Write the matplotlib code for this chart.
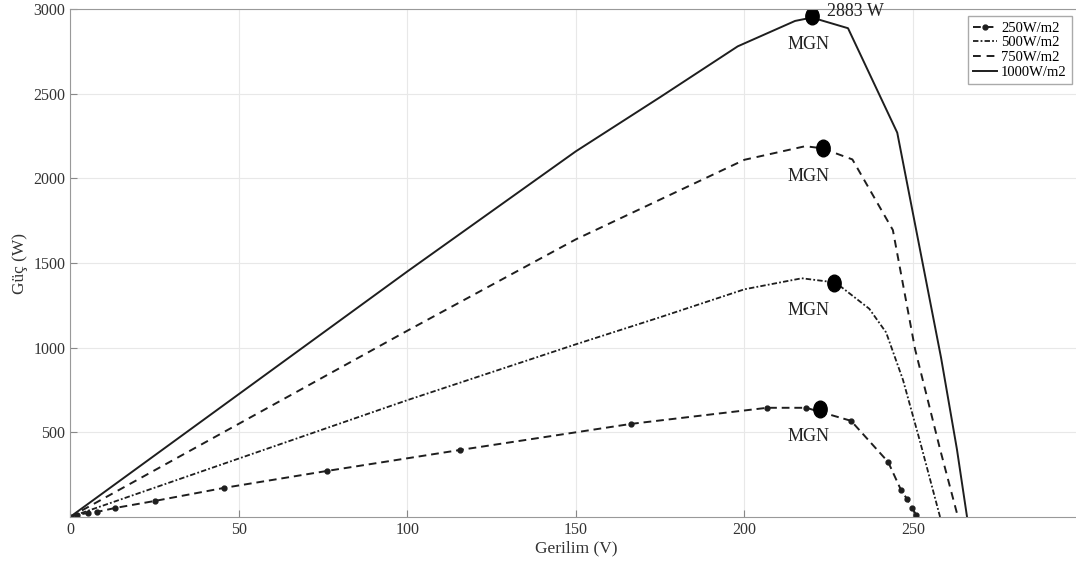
import matplotlib.pyplot as plt
from matplotlib.path import Path
from matplotlib.transforms import Affine2D

plt.rcParams['font.family'] = ['Liberation Serif', 'DejaVu Serif']

# 250 W/m2 (olculen noktalar)
v_250 = [0, 2.1, 5.3, 8.0, 13.3, 25.2, 45.7, 76.2, 115.7, 166.4, 206.7, 218.3, 231.6, 242.6, 246.4, 248.2, 249.7, 251.0]
p_250 = [0, 12, 24, 30, 53, 95, 172, 272, 396, 550, 645, 645, 568, 325, 160, 106, 53, 10]

# 500 W/m2
v_500 = [0, 50, 100, 150, 175, 200, 217, 227, 237, 242, 247, 252, 258]
p_500 = [0, 345, 690, 1020, 1180, 1345, 1410, 1385, 1230, 1090, 810, 450, 0]

# 750 W/m2
v_750 = [0, 50, 100, 150, 200, 218, 223, 232, 244, 250.6, 258, 263.3]
p_750 = [0, 550, 1100, 1640, 2110, 2190, 2178, 2112, 1695, 990, 400, 0]

# 1000 W/m2
v_1000 = [0, 50, 100, 150, 175, 198, 215, 220, 230.7, 245.3, 258.3, 263, 266]
p_1000 = [0, 725, 1450, 2160, 2480, 2780, 2930, 2950, 2887, 2270, 940, 400, 0]

# maksimum guc noktalari (MGN)
mgn_v = [222.4, 226.6, 223.3, 220.0]
mgn_p = [639, 1385, 2178, 2958]
peak_label = '2883 W'

fig, ax = plt.subplots(figsize=(10.76, 5.68), dpi=100)
fig.subplots_adjust(left=0.0651, right=0.0651 + 0.9402, bottom=0.0898, top=0.984)

lc = '#1e1e1e'
ax.plot(v_250, p_250, linestyle=(0, (4, 2.5)), color=lc, lw=1.4, marker='o', markersize=3.5, label='250W/m2')
ax.plot(v_500, p_500, linestyle=(0, (3, 1.2, 1, 1.2)), color=lc, lw=1.3, label='500W/m2')
ax.plot(v_750, p_750, linestyle=(0, (4, 3)), color=lc, lw=1.4, label='750W/m2')
ax.plot(v_1000, p_1000, linestyle='-', color=lc, lw=1.4, label='1000W/m2')

# biraz dik elips seklinde isaret
ell = Path.unit_circle().transformed(Affine2D().scale(0.8, 1.0))
ax.plot(mgn_v, mgn_p, linestyle='none', marker=ell, markersize=12, color='black')
for v, p in zip(mgn_v, mgn_p):
    ax.text(218.9, p - 165, 'MGN', ha='center', va='center', fontsize=13, color='#222222')
ax.text(224.5, mgn_p[-1] + 25, peak_label, ha='left', va='center', fontsize=13, color='#222222')

ax.set_xlim(0, 300)
ax.set_ylim(0, 3000)
ax.set_xticks([0, 50, 100, 150, 200, 250])
ax.set_yticks([500, 1000, 1500, 2000, 2500, 3000])
ax.tick_params(direction='in', length=5, color='#888888', labelcolor='#333333', labelsize=11.5)
ax.grid(True, color='#e8e8e8', lw=0.8)
for s in ax.spines.values():
    s.set_color('#999999')

ax.set_xlabel('Gerilim (V)', fontsize=12.5, color='#333333', labelpad=2)
ax.set_ylabel('Güç (W)', fontsize=12.5, color='#333333', labelpad=4)

leg = ax.legend(loc='upper right', bbox_to_anchor=(0.9975, 1.0), fontsize=10.5, handlelength=1.6,
                handletextpad=0.3, borderpad=0.35, labelspacing=0.1, fancybox=False, framealpha=1)
leg.get_frame().set_edgecolor('#aaaaaa')

plt.savefig('out.png', dpi=100)
